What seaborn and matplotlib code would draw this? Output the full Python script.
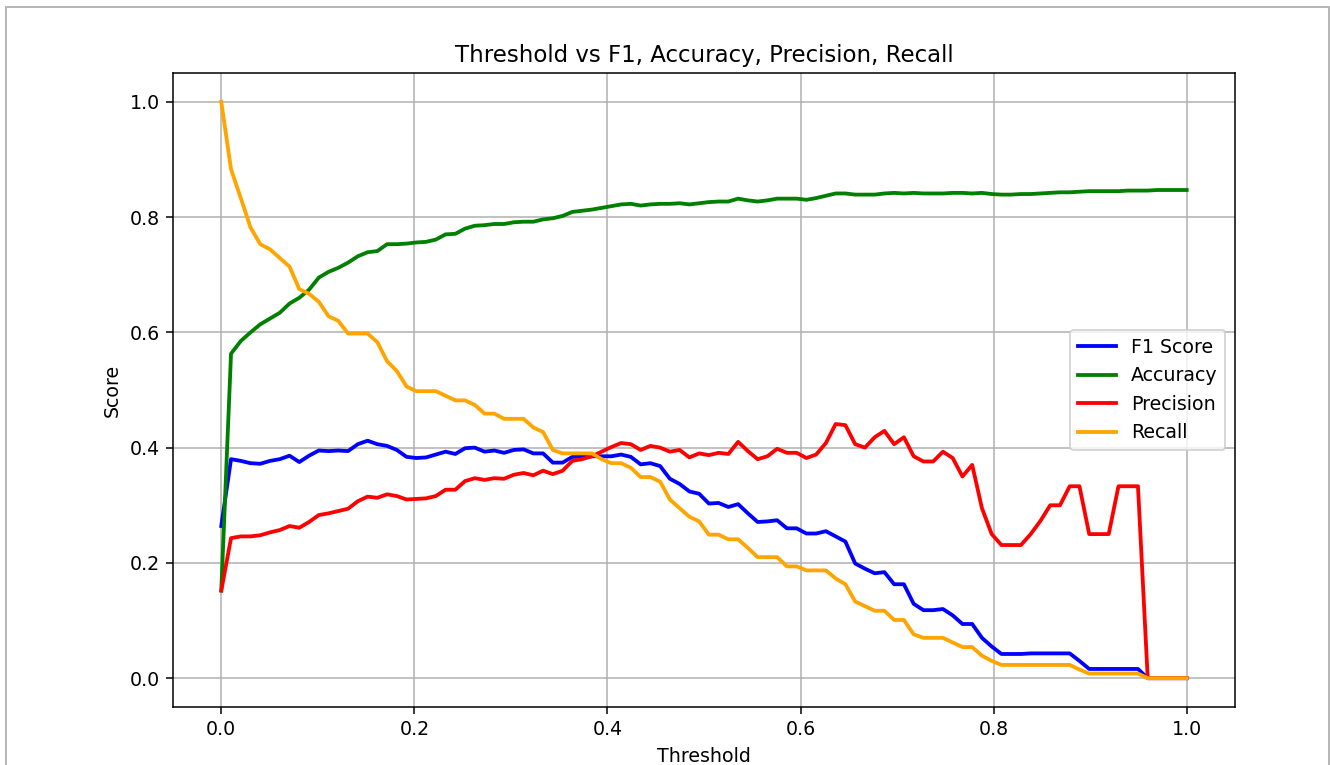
import numpy as np
import pandas as pd
import matplotlib
matplotlib.use("Agg")
import matplotlib.pyplot as plt
import matplotlib.patches as mpatches
import seaborn as sns

thresholds = np.linspace(0, 1, 100)

f1_score = [
    0.264, 0.380, 0.377, 0.373, 0.372, 0.377, 0.380, 0.386, 0.375, 0.386,
    0.395, 0.394, 0.395, 0.394, 0.406, 0.412, 0.406, 0.403, 0.396, 0.384,
    0.382, 0.383, 0.388, 0.393, 0.389, 0.399, 0.400, 0.393, 0.395, 0.391,
    0.396, 0.397, 0.390, 0.390, 0.374, 0.374, 0.384, 0.384, 0.385, 0.385,
    0.385, 0.388, 0.384, 0.371, 0.373, 0.368, 0.346, 0.337, 0.324, 0.320,
    0.303, 0.304, 0.297, 0.302, 0.286, 0.271, 0.272, 0.274, 0.260, 0.260,
    0.251, 0.251, 0.255, 0.246, 0.237, 0.199, 0.190, 0.182, 0.184, 0.163,
    0.163, 0.129, 0.118, 0.118, 0.120, 0.109, 0.094, 0.094, 0.070, 0.055,
    0.042, 0.042, 0.042, 0.043, 0.043, 0.043, 0.043, 0.043, 0.030, 0.016,
    0.016, 0.016, 0.016, 0.016, 0.016, 0.0, 0.0, 0.0, 0.0, 0.0,
]

accuracy = [
    0.152, 0.563, 0.585, 0.600, 0.614, 0.624, 0.634, 0.650, 0.660, 0.674,
    0.695, 0.705, 0.712, 0.721, 0.732, 0.739, 0.741, 0.753, 0.753, 0.754,
    0.756, 0.757, 0.761, 0.770, 0.771, 0.780, 0.785, 0.786, 0.788, 0.788,
    0.791, 0.792, 0.792, 0.796, 0.798, 0.802, 0.809, 0.811, 0.813, 0.816,
    0.819, 0.822, 0.823, 0.820, 0.822, 0.823, 0.823, 0.824, 0.822, 0.824,
    0.826, 0.827, 0.827, 0.832, 0.829, 0.827, 0.829, 0.832, 0.832, 0.832,
    0.830, 0.833, 0.837, 0.841, 0.841, 0.839, 0.839, 0.839, 0.841, 0.842,
    0.841, 0.842, 0.841, 0.841, 0.841, 0.842, 0.842, 0.841, 0.842, 0.840,
    0.839, 0.839, 0.840, 0.840, 0.841, 0.842, 0.843, 0.843, 0.844, 0.845,
    0.845, 0.845, 0.845, 0.846, 0.846, 0.846, 0.847, 0.847, 0.847, 0.847,
]

precision = [
    0.152, 0.243, 0.246, 0.246, 0.248, 0.253, 0.257, 0.264, 0.261, 0.271,
    0.283, 0.286, 0.290, 0.294, 0.307, 0.315, 0.313, 0.319, 0.316, 0.310,
    0.311, 0.312, 0.316, 0.327, 0.327, 0.342, 0.347, 0.344, 0.347, 0.346,
    0.353, 0.356, 0.352, 0.360, 0.354, 0.360, 0.377, 0.380, 0.385, 0.393,
    0.401, 0.408, 0.406, 0.396, 0.403, 0.400, 0.393, 0.396, 0.383, 0.390,
    0.387, 0.391, 0.389, 0.410, 0.394, 0.380, 0.385, 0.398, 0.391, 0.391,
    0.382, 0.388, 0.408, 0.441, 0.439, 0.406, 0.400, 0.418, 0.429, 0.406,
    0.418, 0.385, 0.376, 0.376, 0.393, 0.382, 0.350, 0.370, 0.295, 0.250,
    0.231, 0.231, 0.231, 0.250, 0.273, 0.300, 0.300, 0.333, 0.333, 0.250,
    0.250, 0.250, 0.333, 0.333, 0.333, 0.0, 0.0, 0.0, 0.0, 0.0,
]

recall = [
    1.000, 0.883, 0.833, 0.782, 0.753, 0.744, 0.729, 0.714, 0.675, 0.667,
    0.653, 0.628, 0.620, 0.598, 0.598, 0.598, 0.583, 0.550, 0.533, 0.506,
    0.498, 0.498, 0.498, 0.490, 0.482, 0.482, 0.474, 0.459, 0.459, 0.450,
    0.450, 0.450, 0.435, 0.427, 0.396, 0.390, 0.390, 0.390, 0.390, 0.380,
    0.373, 0.373, 0.365, 0.349, 0.349, 0.341, 0.310, 0.295, 0.280, 0.272,
    0.249, 0.249, 0.241, 0.241, 0.226, 0.210, 0.210, 0.210, 0.194, 0.194,
    0.187, 0.187, 0.187, 0.173, 0.163, 0.133, 0.125, 0.117, 0.117, 0.101,
    0.101, 0.076, 0.070, 0.070, 0.070, 0.062, 0.054, 0.054, 0.039, 0.030,
    0.023, 0.023, 0.023, 0.023, 0.023, 0.023, 0.023, 0.023, 0.015, 0.008,
    0.008, 0.008, 0.008, 0.008, 0.008, 0.0, 0.0, 0.0, 0.0, 0.0,
]

series_names = ["F1 Score", "Accuracy", "Precision", "Recall"]
series_values = [f1_score, accuracy, precision, recall]
series_colors = ["blue", "green", "red", "orange"]

DPI = 137
W, H = 1330, 765
fig = plt.figure(figsize=(W / DPI, H / DPI), dpi=DPI)
ax = fig.add_axes([173 / W, (H - 707) / H, (1235 - 173) / W, (707 - 73) / H])

for name, vals, col in zip(series_names, series_values, series_colors):
    sns.lineplot(x=thresholds, y=vals, ax=ax, color=col, label=name,
                 linewidth=2, estimator=None, sort=False)

ax.set_title("Threshold vs F1, Accuracy, Precision, Recall")
ax.set_xlabel("Threshold")
ax.set_ylabel("Score")
ax.grid(True)
ax.legend(loc="center right")

border = mpatches.Rectangle((6 / W, -0.2), (1329 - 6) / W, (H - 7) / H + 0.2,
                            transform=fig.transFigure, fill=False,
                            edgecolor="#b4b4b4", linewidth=1.0, zorder=10)
fig.patches.append(border)

fig.savefig("out.png", dpi=DPI)
